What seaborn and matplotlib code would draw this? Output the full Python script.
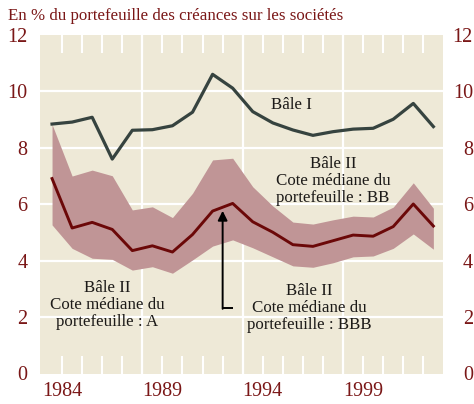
import numpy as np
import pandas as pd
import matplotlib
matplotlib.use("Agg")
import matplotlib.pyplot as plt
import seaborn as sns
from matplotlib.ticker import FixedLocator
from matplotlib.transforms import ScaledTranslation

# Annual series, 1983-2002 (plotted at mid-year)
years = list(range(1983, 2003))
bale_1 = [8.83, 8.90, 9.07, 7.59, 8.61, 8.63, 8.77, 9.25, 10.59, 10.10,
          9.27, 8.87, 8.62, 8.43, 8.56, 8.65, 8.68, 9.00, 9.56, 8.74]
median_bbb = [6.90, 5.15, 5.35, 5.10, 4.35, 4.52, 4.30, 4.92, 5.75, 6.02,
              5.37, 5.00, 4.56, 4.50, 4.70, 4.90, 4.86, 5.20, 6.00, 5.22]
rating_bb = [8.82, 6.99, 7.20, 7.00, 5.79, 5.90, 5.52, 6.38, 7.56, 7.62,
             6.61, 5.93, 5.36, 5.29, 5.44, 5.57, 5.54, 5.89, 6.75, 5.85]
rating_a = [5.26, 4.43, 4.08, 4.04, 3.66, 3.78, 3.55, 4.02, 4.51, 4.73,
            4.45, 4.13, 3.81, 3.76, 3.92, 4.13, 4.16, 4.43, 4.94, 4.40]

y_ticks = [0, 2, 4, 6, 8, 10, 12]
x_ticks = [1984, 1989, 1994, 1999]
x_tick_labels = ["1984", "1989", "1994", "1999"]
title = "En % du portefeuille des créances sur les sociétés"

BG = "#eee9d7"
BAND = "#c09596"
DARK_RED = "#6b0808"
GREY = "#36433f"
LABEL_RED = "#7a1717"
TEXT = "#1c1a18"

df = pd.DataFrame({
    "x": np.array(years) + 0.5,
    "bale_1": bale_1,
    "median_bbb": median_bbb,
    "rating_bb": rating_bb,
    "rating_a": rating_a,
})

plt.rcParams["font.family"] = ["Liberation Serif", "DejaVu Serif"]

fig = plt.figure(figsize=(4.74, 4.04), dpi=100)
ax = fig.add_axes([40 / 474, 1 - 373.5 / 404, 403 / 474, 339 / 404])
ax.set_facecolor(BG)

ax.set_xlim(1982.90, 2002.98)
ax.set_ylim(0, 12)

# white grid: horizontal at each even value, vertical every five years
for v in y_ticks[1:-1]:
    ax.axhline(v, color="white", lw=1.6, zorder=1)
for v in [1988, 1993, 1998]:
    ax.axvline(v, color="white", lw=1.6, zorder=1)

# band between A and BB ratings
ax.fill_between(df["x"], df["rating_a"], df["rating_bb"],
                color=BAND, lw=0, zorder=2)

sns.lineplot(data=df, x="x", y="bale_1", ax=ax, color=GREY, lw=2.3,
             zorder=3, legend=False)
sns.lineplot(data=df, x="x", y="median_bbb", ax=ax, color=DARK_RED, lw=2.1,
             zorder=4, legend=False)

ax.set_xlabel("")
ax.set_ylabel("")
for s in ax.spines.values():
    s.set_visible(False)

# x ticks: short white marks every year, top and bottom
ax.xaxis.set_major_locator(FixedLocator(x_ticks))
ax.set_xticklabels(x_tick_labels)
ax.xaxis.set_minor_locator(FixedLocator(list(range(1984, 2003))))
ax.tick_params(axis="x", which="both", direction="in", length=13,
               width=1.5, color="white", top=True, bottom=True)
ax.tick_params(axis="x", which="major", labelsize=14.5, labelcolor=LABEL_RED,
               pad=6)

# y labels on both sides, right-aligned
ax.set_yticks(y_ticks)
ax.set_yticklabels([str(v) for v in y_ticks])
ax.tick_params(axis="y", length=0, labelsize=14.5, labelcolor=LABEL_RED,
               left=False, right=False, labelleft=True, labelright=True,
               pad=9)
offset = ScaledTranslation(12.5 / 72, 0, fig.dpi_scale_trans)
for t in ax.yaxis.get_major_ticks():
    t.label2.set_horizontalalignment("right")
    t.label2.set_transform(t.label2.get_transform() + offset)

fig.text(8 / 474, 1 - 20 / 404, title, color=LABEL_RED, fontsize=12.2,
         ha="left", va="baseline")

txt = dict(color=TEXT, fontsize=12.2, ha="center", va="center",
           linespacing=1.08, zorder=5)
ax.text(1995.45, 9.5, "Bâle I", **txt)
ax.text(1997.5, 6.8, "Bâle II\nCote médiane du\nportefeuille : BB", **txt)
ax.text(1986.25, 2.42, "Bâle II\nCote médiane du\nportefeuille : A", **txt)
ax.text(1996.3, 2.32, "Bâle II\nCote médiane du\nportefeuille : BBB", **txt)

# pointer to the BBB median
ax.plot([1992.5, 1992.0], [2.31, 2.31], color="black", lw=1.4, zorder=5,
        solid_capstyle="butt")
ax.annotate("", xy=(1992.0, 5.76), xytext=(1992.0, 2.29),
            arrowprops=dict(arrowstyle="-|>", color="black", lw=1.4,
                            mutation_scale=14, shrinkA=0, shrinkB=0),
            zorder=5)

fig.savefig("out.png", dpi=100, facecolor="white")
